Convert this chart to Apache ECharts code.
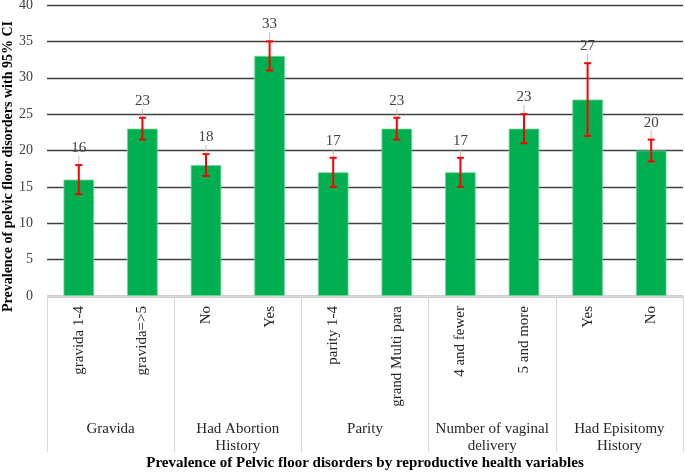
<!DOCTYPE html>
<html><head><meta charset="utf-8">
<script src="https://cdn.jsdelivr.net/npm/echarts@6/dist/echarts.min.js"></script>
<style>html,body{margin:0;padding:0;background:#fff}#c{width:685px;height:474px}</style>
</head><body><div id="c"></div>
<script>
const categories = ['gravida 1-4','gravida=>5','No','Yes','parity 1-4','grand Multi para','4 and fewer','5 and more','Yes','No'];
const groups = ['Gravida','Had Abortion\nHistory','Parity','Number of vaginal\ndelivery','Had Episitomy\nHistory'];
const values = [16, 23, 18, 33, 17, 23, 17, 23, 27, 20];
const ciLow  = [14, 21.5, 16.5, 31, 15, 21.5, 15, 21, 22, 18.5];
const ciHigh = [18, 24.5, 19.5, 35, 19, 24.5, 19, 25, 32, 21.5];
const yTicks = [0, 5, 10, 15, 20, 25, 30, 35, 40];

const serif = '"Liberation Serif", "Times New Roman", serif';
const errData = values.map((v, i) => [i, v, ciLow[i], ciHigh[i]]);

const chart = echarts.init(document.getElementById('c'));
chart.setOption({
  animation: false,
  grid: {left: 47, right: 2, top: 5, bottom: 178, containLabel: false, outerBoundsMode: 'none'},
  xAxis: [{
    type: 'category', data: categories, position: 'bottom',
    axisLine: {lineStyle: {color: '#d9d9d9', width: 1}},
    axisTick: {show: false},
    axisLabel: {rotate: 90, margin: 10, fontFamily: serif, fontSize: 15, color: '#262626', interval: 0},
    name: 'Prevalence of Pelvic floor disorders by reproductive health variables',
    nameLocation: 'middle', nameGap: 160, nameMoveOverlap: false,
    nameTextStyle: {fontFamily: serif, fontSize: 15, fontWeight: 'bold', color: '#000'}
  }, {
    type: 'category', data: groups, position: 'bottom', offset: 0,
    axisLine: {show: false},
    axisTick: {show: true, length: 156, interval: 0, lineStyle: {color: '#d9d9d9', width: 1}},
    axisLabel: {margin: 125, fontFamily: serif, fontSize: 15, color: '#262626', interval: 0, lineHeight: 17}
  }],
  yAxis: {
    type: 'value', min: yTicks[0], max: yTicks[yTicks.length - 1], interval: 5,
    axisLine: {show: false}, axisTick: {show: false},
    splitLine: {lineStyle: {color: '#404040', width: 1.3}},
    axisLabel: {margin: 14, fontFamily: serif, fontSize: 14, color: '#404040'},
    name: 'Prevalence of pelvic floor disorders with 95% CI',
    nameLocation: 'middle', nameGap: 32, nameMoveOverlap: false,
    nameTextStyle: {fontFamily: serif, fontSize: 14, fontWeight: 'bold', color: '#000', padding: [0, 32, 0, 0]}
  },
  series: [{
    type: 'bar', data: values, barWidth: '48%', xAxisIndex: 0,
    itemStyle: {color: '#00B050', borderColor: '#6fd496', borderWidth: 0.8}
  }, {
    type: 'custom', xAxisIndex: 0, data: errData, z: 10,
    renderItem: function (params, api) {
      const idx = api.value(0);
      const top = api.coord([idx, api.value(1)]);
      const lo = api.coord([idx, api.value(2)]);
      const hi = api.coord([idx, api.value(3)]);
      const x = top[0];
      const cap = 3.5;
      const red = {stroke: '#ff0000', lineWidth: 2};
      return {type: 'group', children: [
        {type: 'line', shape: {x1: x, y1: hi[1] - 9, x2: x, y2: top[1]}, style: {stroke: '#bfbfbf', lineWidth: 1}},
        {type: 'line', shape: {x1: x, y1: hi[1], x2: x, y2: lo[1]}, style: red},
        {type: 'line', shape: {x1: x - cap, y1: hi[1], x2: x + cap, y2: hi[1]}, style: red},
        {type: 'line', shape: {x1: x - cap, y1: lo[1], x2: x + cap, y2: lo[1]}, style: red},
        {type: 'text', style: {x: x, y: hi[1] - 17, text: String(api.value(1)), align: 'center', verticalAlign: 'middle',
          font: '15px ' + serif, fill: '#404040'}}
      ]};
    }
  }]
});
</script></body></html>
